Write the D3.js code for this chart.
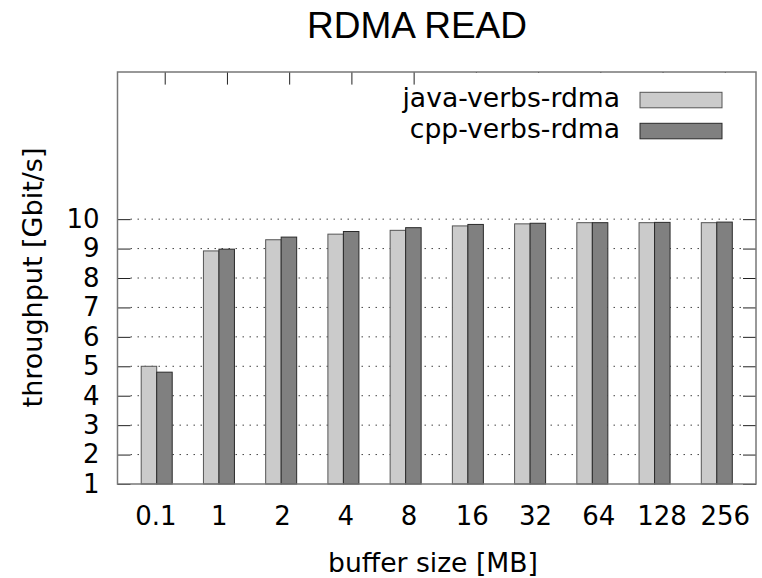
<!DOCTYPE html>
<meta charset="utf-8">
<style>
body { margin: 0; background: #fff; }
text { font-family: 'DejaVu Sans', sans-serif; fill: #000; }
.title { font-family: 'Liberation Sans', Arial, sans-serif; font-size: 37px; }
.axis text { font-size: 26px; }
.axis line { stroke: #222; stroke-width: 1; }
.axis path { display: none; }
.grid line { stroke: #444; stroke-width: 1; stroke-dasharray: 1.5,5.5; }
</style>
<body>
<div id="chart"></div>
<script src="https://d3js.org/d3.v7.min.js"></script>
<script>

// values
var sizes = ["0.1", "1", "2", "4", "8", "16", "32", "64", "128", "256"];
var javaVerbs = [5.00, 8.92, 9.30, 9.49, 9.62, 9.77, 9.84, 9.88, 9.88, 9.88];
var cppVerbs  = [4.80, 8.98, 9.39, 9.58, 9.71, 9.82, 9.86, 9.88, 9.89, 9.90];
var seriesNames = ["java-verbs-rdma", "cpp-verbs-rdma"];
var yTicks = [1, 2, 3, 4, 5, 6, 7, 8, 9, 10];
var yGrid = [2, 3, 4, 5, 6, 7, 8, 9, 10];

var width = 762,
    height = 578,
    frame = {left: 117.5, right: 756, top: 72, bottom: 484},
    barW = 15.5,
    colors = ["#cbcbcb", "#808080"],
    strokes = ["#555", "#2a2a2a"];

var svg = d3.select("#chart").append("svg")
    .attr("width", width)
    .attr("height", height);

var x = d3.scalePoint().domain(sizes).range([frame.left, frame.right]).padding(0.63);
// tick labels sit a bit right of the bar groups in the original
var xLab = d3.scalePoint().domain(sizes).range([115.6, 764.6]).padding(0.63);
var y = d3.scaleLinear().domain([1, 15]).range([frame.bottom, frame.top]);

// dotted grid
svg.append("g")
    .attr("class", "grid")
    .selectAll("line")
    .data(yGrid)
    .enter().append("line")
    .attr("x1", frame.left + 13)
    .attr("x2", frame.right - 13)
    .attr("y1", d => y(d))
    .attr("y2", d => y(d));

// bars
var rows = sizes.map((s, i) => ({size: s, vals: [javaVerbs[i], cppVerbs[i]]}));

var group = svg.selectAll(".size")
    .data(rows)
    .enter().append("g")
    .attr("class", "size")
    .attr("transform", d => `translate(${x(d.size)},0)`);

group.selectAll("rect")
    .data(d => d.vals)
    .enter().append("rect")
    .attr("x", (d, j) => (j - 1) * barW)
    .attr("y", d => y(d))
    .attr("width", barW)
    .attr("height", d => frame.bottom - y(d))
    .attr("fill", (d, j) => colors[j])
    .attr("stroke", (d, j) => strokes[j])
    .attr("stroke-width", 1);

// axes
svg.append("g")
    .attr("class", "axis")
    .attr("transform", `translate(${frame.left},0)`)
    .call(d3.axisLeft(y).tickValues(yTicks).tickSize(-13).tickPadding(18));

svg.append("g")
    .attr("class", "axis")
    .attr("transform", `translate(${frame.right},0)`)
    .call(d3.axisRight(y).tickValues(yTicks).tickSize(-13).tickFormat(""));

svg.append("g")
    .attr("class", "axis")
    .attr("transform", `translate(8,${frame.top})`)
    .call(d3.axisTop(x).tickSize(-12.6).tickFormat(""));

svg.append("g")
    .attr("class", "axis")
    .attr("transform", `translate(0,${frame.bottom})`)
    .call(d3.axisBottom(xLab).tickSize(0).tickPadding(22.5));

// frame
svg.append("rect")
    .attr("x", frame.left)
    .attr("y", frame.top)
    .attr("width", frame.right - frame.left)
    .attr("height", frame.bottom - frame.top)
    .attr("fill", "none")
    .attr("stroke", "#777")
    .attr("stroke-width", 1.5);

// legend (opaque key box like gnuplot)
svg.append("rect")
    .attr("x", 418)
    .attr("y", frame.top + 1)
    .attr("width", 330)
    .attr("height", 75)
    .attr("fill", "#fff");

var legend = svg.append("g")
    .selectAll("g")
    .data(seriesNames)
    .enter().append("g")
    .attr("transform", (d, i) => `translate(0,${92.3 + i * 31})`);

legend.append("rect")
    .attr("x", 640)
    .attr("width", 82)
    .attr("height", 15.5)
    .attr("fill", (d, i) => colors[i])
    .attr("stroke", (d, i) => strokes[i])
    .attr("stroke-width", 1);

legend.append("text")
    .attr("x", 620)
    .attr("y", 15)
    .attr("text-anchor", "end")
    .style("font-size", "26.6px")
    .text(d => d);

// titles
svg.append("text")
    .attr("class", "title")
    .attr("x", 417)
    .attr("y", 38)
    .attr("text-anchor", "middle")
    .text("RDMA READ");

svg.append("text")
    .attr("x", 433)
    .attr("y", 572)
    .attr("text-anchor", "middle")
    .style("font-size", "26.6px")
    .text("buffer size [MB]");

svg.append("text")
    .attr("transform", "translate(42,277.5) rotate(-90)")
    .attr("text-anchor", "middle")
    .style("font-size", "27px")
    .text("throughput [Gbit/s]");

</script>
</body>
